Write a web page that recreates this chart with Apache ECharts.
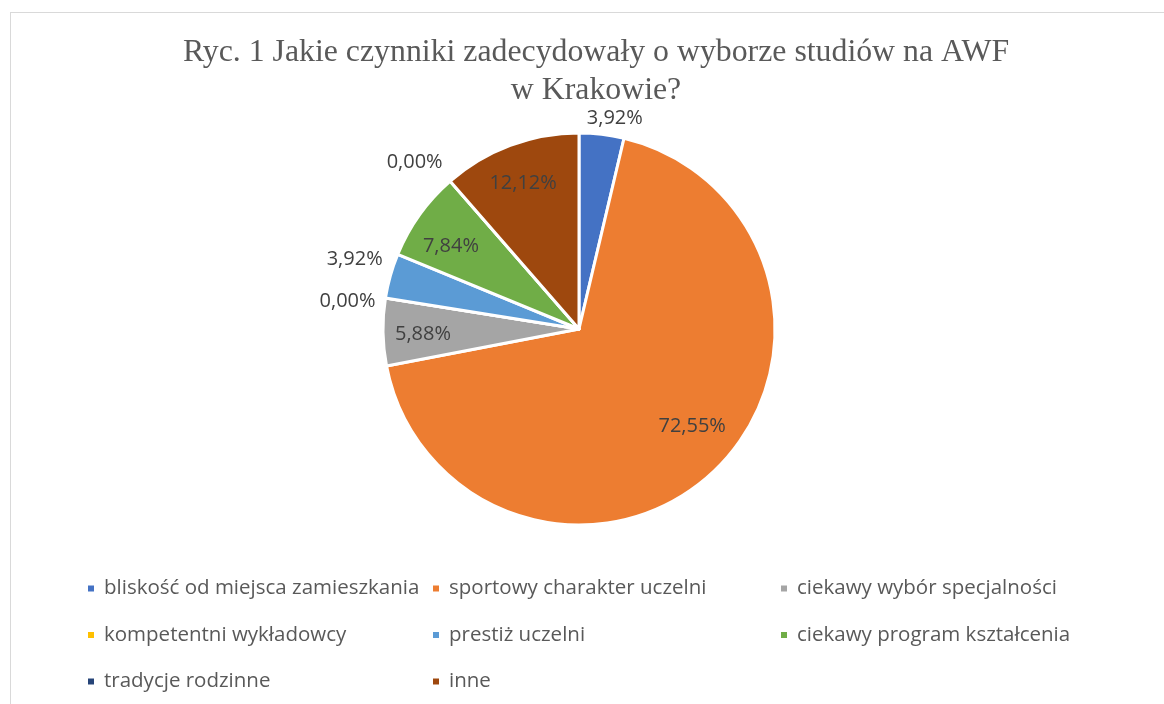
<!DOCTYPE html>
<html>
<head>
<meta charset="utf-8">
<script src="https://cdn.jsdelivr.net/npm/echarts@6/dist/echarts.min.js"></script>
<style>
  html, body { margin: 0; padding: 0; background: #fff; }
  #frame { position: absolute; left: 10px; top: 12px; width: 1200px; height: 740px; border: 1px solid #d9d9d9; }
  #main { position: absolute; left: 0; top: 0; width: 1164px; height: 704px; }
</style>
</head>
<body>
<div id="frame"></div>
<div id="main"></div>
<script>
// dane z wykresu
var categories = [
  "bliskość od miejsca zamieszkania",
  "sportowy charakter uczelni",
  "ciekawy wybór specjalności",
  "kompetentni wykładowcy",
  "prestiż uczelni",
  "ciekawy program kształcenia",
  "tradycje rodzinne",
  "inne"
];
var values = [3.92, 72.55, 5.88, 0.00, 3.92, 7.84, 0.00, 12.12];
var colors = ["#4472C4", "#ED7D31", "#A5A5A5", "#FFC000", "#5B9BD5", "#70AD47", "#264478", "#9E480E"];
// które etykiety są na zewnątrz
var outsideLabel = [true, false, false, true, true, false, true, false];

var legendCols = [
  [categories[0], categories[3], categories[6]],
  [categories[1], categories[4], categories[7]],
  [categories[2], categories[5]]
];

// drobne przesunięcia etykiet (jak "best fit" w Excelu)
var labelNudge = [[-23, -6], [-1, -22], [9, 3], [7, 5], [9, -14], [6, 13], [6, -11], [2, 9]];

var fontSans = "'Open Sans', 'Liberation Sans', sans-serif";

function fmt(v) {
  return v.toFixed(2).replace('.', ',') + '%';
}

function nudge(params) {
  var n = labelNudge[params.dataIndex];
  return { dx: n[0], dy: n[1] };
}

var chart = echarts.init(document.getElementById('main'));

var mainData = categories.map(function (name, i) {
  return {
    name: name,
    value: values[i],
    itemStyle: { color: colors[i] },
    label: { show: outsideLabel[i] }
  };
});

var ringData = categories.map(function (name, i) {
  return {
    name: name,
    value: values[i],
    label: { show: !outsideLabel[i] }
  };
});

function makeLegend(col, left) {
  return {
    data: col,
    orient: 'vertical',
    left: left,
    top: 573,
    icon: 'rect',
    itemWidth: 8,
    itemHeight: 8,
    itemGap: 25.5,
    selectedMode: false,
    textStyle: { fontFamily: fontSans, fontSize: 20.5, color: '#595959', lineHeight: 20, padding: [0, 0, 0, 4] }
  };
}

chart.setOption({
  animation: false,
  title: {
    text: 'Ryc. 1 Jakie czynniki zadecydowały o wyborze studiów na AWF\nw Krakowie?',
    left: 591,
    textAlign: 'center',
    top: 29,
    textStyle: {
      fontFamily: "'Liberation Serif', 'DejaVu Serif', serif",
      fontSize: 31.8,
      fontWeight: 'normal',
      color: '#595959',
      lineHeight: 38
    }
  },
  legend: [
    makeLegend(legendCols[0], 81),
    makeLegend(legendCols[1], 426),
    makeLegend(legendCols[2], 774)
  ],
  series: [
    {
      type: 'pie',
      center: [579, 329],
      radius: [0, 196],
      startAngle: 90,
      clockwise: true,
      avoidLabelOverlap: true,
      itemStyle: { borderColor: '#fff', borderWidth: 3 },
      label: {
        position: 'outside',
        formatter: function (p) { return fmt(p.value); },
        fontFamily: fontSans,
        fontSize: 20,
        color: '#404040'
      },
      labelLine: { show: false, length: 10, length2: 2 },
      labelLayout: nudge,
      data: mainData
    },
    {
      type: 'pie',
      center: [579, 329],
      radius: [128, 196],
      startAngle: 90,
      clockwise: true,
      silent: true,
      itemStyle: { color: 'rgba(0,0,0,0)' },
      label: {
        position: 'inside',
        formatter: function (p) { return fmt(p.value); },
        fontFamily: fontSans,
        fontSize: 20,
        color: '#404040'
      },
      labelLine: { show: false },
      labelLayout: nudge,
      data: ringData
    }
  ]
});
</script>
</body>
</html>
